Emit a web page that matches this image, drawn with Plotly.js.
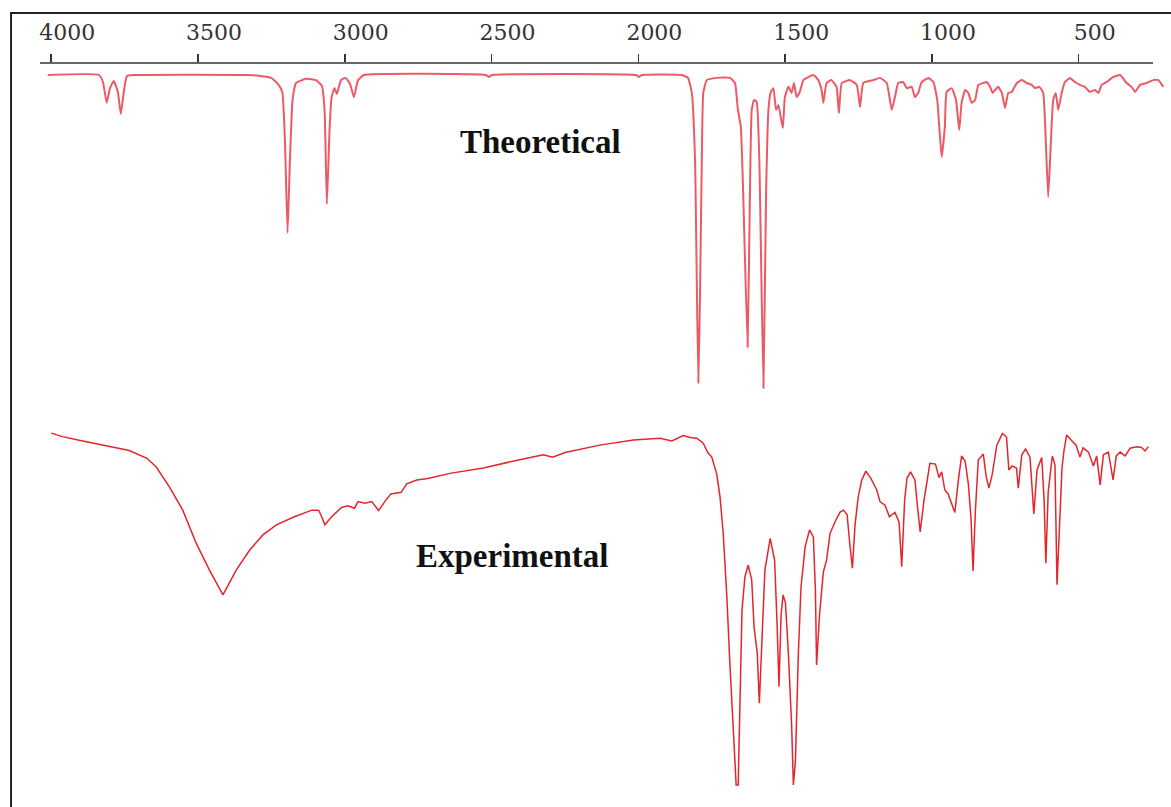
<!DOCTYPE html>
<html>
<head>
<meta charset="utf-8">
<script src="https://cdn.plot.ly/plotly-3.0.1.min.js"></script>
<style>
  html, body { margin: 0; padding: 0; background: #fff; }
  #chart { width: 1171px; height: 807px; }
</style>
</head>
<body>
<div id="chart"></div>
<script>
// Calculated (theoretical) IR spectrum: wavenumber (cm-1) and transmittance (%)
const theoWavenumber = [
  4012, 3837, 3824, 3811, 3800, 3787, 3773, 3763, 3752, 3742, 3715,
  3330, 3289, 3251, 3228, 3213, 3204, 3195, 3187, 3178, 3166, 3132, 3098, 3078,
  3069, 3061, 3052, 3045, 3035, 3027, 3013, 2997, 2982, 2969, 2955, 2935,
  2519, 2509, 2499, 2008, 1998, 1988,
  1852, 1831, 1818, 1807, 1796, 1790, 1784, 1779, 1767, 1733, 1688, 1671, 1661,
  1651, 1643, 1628, 1620, 1614, 1606, 1597, 1588, 1574, 1565, 1557, 1549, 1540,
  1531, 1523, 1508, 1501, 1489, 1478, 1470, 1461, 1450, 1438, 1404, 1387, 1376,
  1370, 1359, 1342, 1325, 1317, 1307, 1279, 1256, 1245, 1234, 1200, 1177, 1154,
  1137, 1126, 1115, 1098, 1086, 1069, 1058, 1047, 1035, 1012, 995, 982, 975,
  967, 956, 950, 933, 918, 907, 899, 887, 876, 865, 853, 842, 825, 814, 802,
  793, 785, 774, 762, 751, 740, 728, 711, 694, 677, 660, 649, 634, 621, 612,
  604, 595, 587, 578, 570, 558, 547, 530, 513, 496, 479, 462, 445, 433, 422,
  405, 382, 359, 337, 320, 308, 291, 269, 246, 229, 212
];
const theoTransmittance = [
  100.0, 100.0, 97.8, 91.3, 95.9, 98.1, 94.7, 87.8, 95.3, 99.7, 100.0,
  100.0, 99.7, 99.1, 97.2, 94.7, 79.7, 50.6, 73.4, 92.2, 97.5, 98.8, 98.4, 96.6,
  89.1, 59.7, 82.8, 93.1, 95.9, 94.1, 98.4, 99.1, 97.2, 93.1, 98.4, 100.0,
  100.0, 99.4, 100.0, 100.0, 99.4, 100.0,
  100.0, 99.1, 94.4, 73.4, 3.8, 31.9, 73.4, 94.4, 98.4, 99.1, 99.1, 97.5, 89.1,
  83.8, 63.1, 15.0, 63.1, 89.1, 92.2, 91.6, 73.4, 2.2, 63.1, 89.1, 94.7, 95.9,
  89.1, 90.6, 83.4, 93.1, 96.3, 94.4, 97.5, 93.1, 94.7, 98.4, 100.0, 98.4, 95.3,
  91.3, 97.5, 98.4, 96.3, 88.1, 97.5, 98.4, 96.9, 90.0, 97.5, 98.4, 99.1, 97.5,
  89.1, 93.1, 97.5, 97.8, 95.9, 96.3, 93.1, 94.4, 97.8, 99.1, 97.8, 92.2, 83.8,
  74.4, 83.8, 94.7, 95.9, 92.2, 82.8, 91.3, 95.3, 94.4, 91.3, 92.2, 96.9, 97.5, 97.8, 96.3,
  94.4, 95.3, 96.3, 94.4, 89.7, 94.4, 94.7, 97.5, 98.4, 97.5, 96.9, 95.9, 96.3, 94.4, 78.8,
  61.9, 78.8, 92.2, 94.4, 89.1, 94.4, 97.8, 99.1, 97.8, 96.9, 96.3, 94.7, 95.3, 94.4, 96.9,
  97.8, 99.4, 100.0, 97.5, 96.3, 94.7, 96.9, 97.5, 98.4, 98.4, 96.3
];

// Measured (experimental) IR spectrum: wavenumber (cm-1) and transmittance (%)
const expWavenumber = [
  4000, 3962, 3901, 3825, 3734, 3674, 3643, 3598, 3552, 3506, 3461, 3415, 3370,
  3324, 3279, 3233, 3172, 3112, 3089, 3080, 3068, 3045, 3011, 2990, 2967, 2955,
  2931, 2908, 2885, 2862, 2843, 2808, 2789, 2755, 2717, 2642, 2528, 2424, 2324,
  2292, 2250, 2131, 2017, 1926, 1886, 1847, 1824, 1801, 1779, 1763, 1750, 1733,
  1722, 1711, 1699, 1688, 1677, 1667, 1660, 1652, 1647, 1637, 1626, 1614, 1606,
  1595, 1588, 1579, 1569, 1551, 1536, 1528, 1521, 1514, 1507, 1499, 1489, 1478,
  1472, 1465, 1455, 1446, 1432, 1417, 1404, 1397, 1393, 1383, 1370, 1359, 1347,
  1330, 1313, 1301, 1289, 1279, 1271, 1262, 1251, 1239, 1225, 1208, 1188, 1177,
  1160, 1145, 1126, 1112, 1103, 1093, 1085, 1073, 1058, 1048, 1040, 1027, 1007,
  988, 976, 967, 956, 945, 935, 922, 910, 899, 887, 876, 867, 860, 852, 842,
  825, 815, 806, 795, 779, 760, 746, 738, 727, 712, 706, 694, 681, 666, 653,
  642, 626, 618, 612, 604, 590, 581, 574, 566, 557, 550, 541, 526, 509, 496,
  485, 467, 450, 439, 427, 416, 399, 383, 372, 359, 342, 325, 303, 286, 274, 263
];
const expTransmittance = [
  96.6, 95.7, 94.7, 93.5, 92.1, 90.1, 87.9, 82.8, 76.7, 68.1, 61.2, 54.8, 61.2,
  66.4, 70.3, 72.9, 75.0, 76.7, 76.7, 75.2, 72.9, 75.0, 77.4, 77.8, 77.2, 78.9,
  78.5, 78.9, 76.6, 79.1, 80.9, 81.3, 83.5, 84.5, 84.9, 86.2, 87.6, 89.4, 91.0,
  90.4, 91.6, 93.5, 94.8, 95.3, 94.6, 96.0, 95.5, 95.3, 94.0, 91.5, 90.4, 86.0,
  80.2, 70.7, 54.8, 36.7, 19.9, 5.7, 5.7, 38.0, 50.9, 59.5, 62.5, 58.7, 46.6,
  39.7, 26.8, 43.2, 61.2, 69.4, 63.8, 48.3, 31.1, 49.6, 54.8, 52.7, 39.7, 21.2,
  5.7, 12.1, 39.7, 56.9, 67.2, 71.6, 69.8, 56.1, 36.7, 49.6, 60.7, 63.8, 70.7,
  73.7, 76.2, 76.7, 75.5, 67.3, 61.7, 72.9, 80.2, 84.5, 86.8, 84.9, 81.9, 78.9,
  78.0, 75.0, 76.1, 73.6, 62.1, 79.3, 85.0, 86.6, 84.5, 76.7, 71.1, 79.3, 88.8,
  88.6, 85.1, 86.6, 81.9, 80.9, 78.6, 76.1, 84.5, 90.7, 89.4, 83.5, 74.7, 61.0, 76.7, 89.7,
  91.2, 85.3, 82.4, 85.8, 93.5, 96.5, 95.6, 87.1, 88.1, 87.6, 82.4, 91.0, 92.5, 90.4, 75.7,
  87.1, 90.3, 79.3, 63.0, 81.4, 90.7, 88.4, 57.4, 72.9, 87.6, 92.2, 96.1, 94.8, 93.5, 90.4,
  92.8, 91.7, 88.1, 90.7, 83.2, 91.0, 91.7, 84.5, 90.7, 91.7, 90.7, 92.7, 93.1, 92.9, 92.0, 93.1
];

const tickValues = [4000, 3500, 3000, 2500, 2000, 1500, 1000, 500];
const tickLabels = ['4000', '3500', '3000', '2500', '2000', '1500', '1000', '500'];
const panelLabels = ['Theoretical', 'Experimental'];

const traces = [
  {
    x: theoWavenumber, y: theoTransmittance,
    xaxis: 'x', yaxis: 'y',
    type: 'scatter', mode: 'lines',
    line: { color: '#ec5a66', width: 2, shape: 'spline', smoothing: 0.4 },
    hoverinfo: 'skip', showlegend: false
  },
  {
    x: expWavenumber, y: expTransmittance,
    xaxis: 'x', yaxis: 'y2',
    type: 'scatter', mode: 'lines',
    line: { color: '#e3262c', width: 1.5 },
    hoverinfo: 'skip', showlegend: false
  }
];

const layout = {
  width: 1171, height: 807,
  margin: { l: 40, r: 0, t: 63, b: 0, pad: 0 },
  paper_bgcolor: '#ffffff', plot_bgcolor: 'rgba(0,0,0,0)',
  showlegend: false,
  xaxis: {
    range: [4038.3, 185.7],
    side: 'top', anchor: 'y',
    tickmode: 'array', tickvals: tickValues, ticktext: tickLabels,
    ticks: 'outside', ticklen: 8, tickwidth: 1.5, tickcolor: '#333333',
    ticklabelshift: -16, ticklabelstandoff: 5,
    tickfont: { family: 'DejaVu Serif', size: 22, color: '#333333' },
    showline: false, showgrid: false, zeroline: false,
    automargin: false, fixedrange: true
  },
  yaxis: {
    domain: [0.5538, 1], range: [0, 103.75],
    visible: false, showgrid: false, zeroline: false, fixedrange: true
  },
  yaxis2: {
    domain: [0, 0.5202], range: [0, 100], anchor: 'x',
    visible: false, showgrid: false, zeroline: false, fixedrange: true
  },
  shapes: [
    // frame: left and top edges
    {
      type: 'path', xref: 'paper', yref: 'paper',
      path: 'M -0.0256,-0.05 L -0.0256,1.0672 L 1.05,1.0672',
      line: { color: '#222222', width: 2 }
    },
    // wavenumber axis line
    {
      type: 'line', xref: 'x', yref: 'paper',
      x0: 4038.3, x1: 247, y0: 1, y1: 1,
      line: { color: '#333333', width: 1.5 }
    }
  ],
  annotations: [
    {
      text: panelLabels[0], xref: 'paper', yref: 'paper',
      x: 0.4421, y: 0.8938, xanchor: 'center', yanchor: 'middle',
      showarrow: false,
      font: { family: 'Liberation Serif', size: 33, weight: 'bold', color: '#111111' }
    },
    {
      text: panelLabels[1], xref: 'paper', yref: 'paper',
      x: 0.4173, y: 0.3374, xanchor: 'center', yanchor: 'middle',
      showarrow: false,
      font: { family: 'Liberation Serif', size: 33, weight: 'bold', color: '#111111' }
    }
  ]
};

Plotly.newPlot('chart', traces, layout, { displayModeBar: false, staticPlot: true });
</script>
</body>
</html>
